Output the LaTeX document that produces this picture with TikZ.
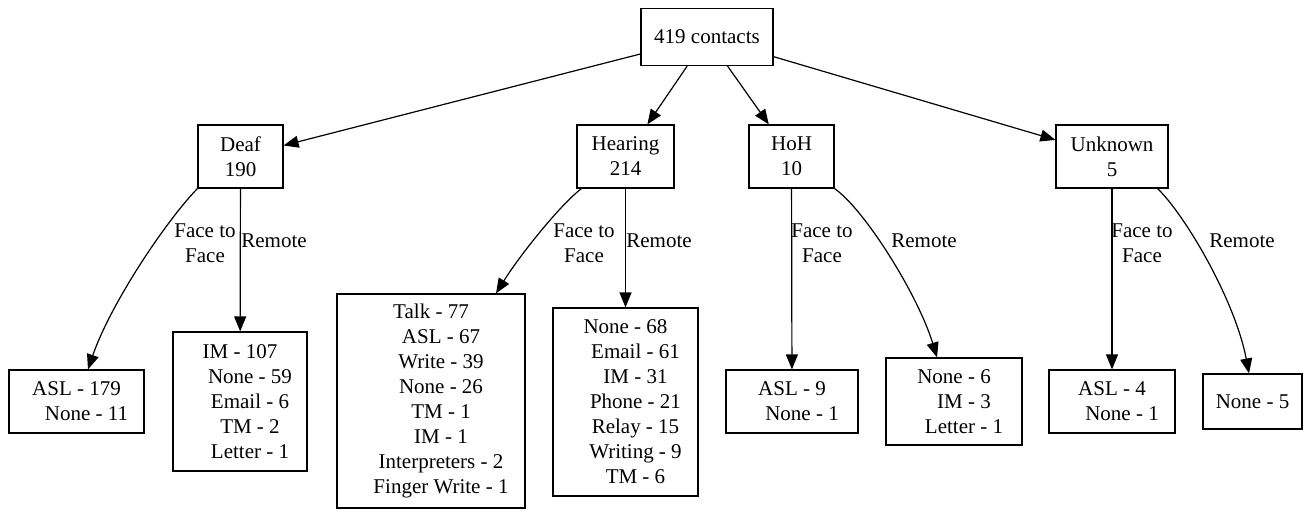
\documentclass[tikz,border=0pt]{standalone}
\usepackage{fontspec}
\setmainfont{Liberation Serif}
\usetikzlibrary{arrows.meta}
\newcommand{\lpad}{\hspace*{20pt}}

\begin{document}
\begin{tikzpicture}[x=1pt, y=-1pt, line width=1.2pt,
		box/.style={draw, align=center, inner sep=0pt, font=\fontsize{21}{25}\selectfont},
		lbl/.style={align=center, inner sep=0pt, font=\fontsize{21}{25}\selectfont},
		arr/.style={-{Triangle[length=15pt,width=12pt]}}]
		\useasboundingbox (0,0) rectangle (1303,509);
		\node[box, minimum width=132pt, minimum height=57pt] (root) at (707,37) {419 contacts};
		\node[box, minimum width=85pt, minimum height=63pt] (deaf) at (240.5,156.5) {Deaf\\190};
		\node[box, minimum width=97pt, minimum height=63pt] (hear) at (625.5,156.5) {Hearing\\214};
		\node[box, minimum width=85pt, minimum height=63pt] (hoh) at (791.5,156.5) {HoH\\10};
		\node[box, minimum width=112pt, minimum height=63pt] (unk) at (1112,156.5) {Unknown\\5};
		\node[box, minimum width=135pt, minimum height=63pt] (deafF) at (76.5,401.5) {ASL - 179\\\lpad None - 11};
		\node[box, minimum width=134pt, minimum height=139pt] (deafR) at (240,401.5) {IM - 107\\\lpad None - 59\\\lpad Email - 6\\\lpad TM - 2\\\lpad Letter - 1};
		\node[box, minimum width=188pt, minimum height=214pt] (hearF) at (431,401) {Talk - 77\\\lpad ASL - 67\\\lpad Write - 39\\\lpad None - 26\\\lpad TM - 1\\\lpad IM - 1\\\lpad Interpreters - 2\\\lpad Finger Write - 1};
		\node[box, minimum width=145pt, minimum height=188pt] (hearR) at (625.5,402) {None - 68\\\lpad Email - 61\\\lpad IM - 31\\\lpad Phone - 21\\\lpad Relay - 15\\\lpad Writing - 9\\\lpad TM - 6};
		\node[box, minimum width=132pt, minimum height=63pt] (hohF) at (792,401.5) {ASL - 9\\\lpad None - 1};
		\node[box, minimum width=136pt, minimum height=87pt] (hohR) at (954,401.5) {None - 6\\\lpad IM - 3\\\lpad Letter - 1};
		\node[box, minimum width=126pt, minimum height=63pt] (unkF) at (1112,401.5) {ASL - 4\\\lpad None - 1};
		\node[box, minimum width=99pt, minimum height=55pt] (unkR) at (1252.5,401.5) {None - 5};
		\draw[arr] (root) -- (deaf);
		\draw[arr] (root) -- (hear);
		\draw[arr] (root) -- (hoh);
		\draw[arr] (root) -- (unk);
		\draw[arr] (deaf.south west) .. controls (165,222) and (110,305) .. ([xshift=11.5pt]deafF.north);
		\draw[arr] (deaf) -- (deafR);
		\draw[arr] ([xshift=5pt]hear.south west) .. controls (560,205) and (520,255) .. ([xshift=65pt]hearF.north);
		\draw[arr] (hear) -- (hearR);
		\draw[arr] (hoh) -- (hohF);
		\draw[arr] (hoh.south east) .. controls (865,210) and (918,295) .. ([xshift=-17pt]hohR.north);
		\draw[arr] (unk) -- (unkF);
		\draw[arr] ([xshift=-11pt]unk.south east) .. controls (1185,215) and (1235,300) .. ([xshift=-3.5pt]unkR.north);
		\node[lbl] (deafFl) at (205,243) {Face to\\Face};
		\node[lbl] (deafRl) at (274,241) {Remote};
		\node[lbl] (hearFl) at (584,243) {Face to\\Face};
		\node[lbl] (hearRl) at (659,241) {Remote};
		\node[lbl] (hohFl) at (822,243) {Face to\\Face};
		\node[lbl] (hohRl) at (924,241) {Remote};
		\node[lbl] (unkFl) at (1142,243) {Face to\\Face};
		\node[lbl] (unkRl) at (1242,241) {Remote};
	\end{tikzpicture}
\end{document}
